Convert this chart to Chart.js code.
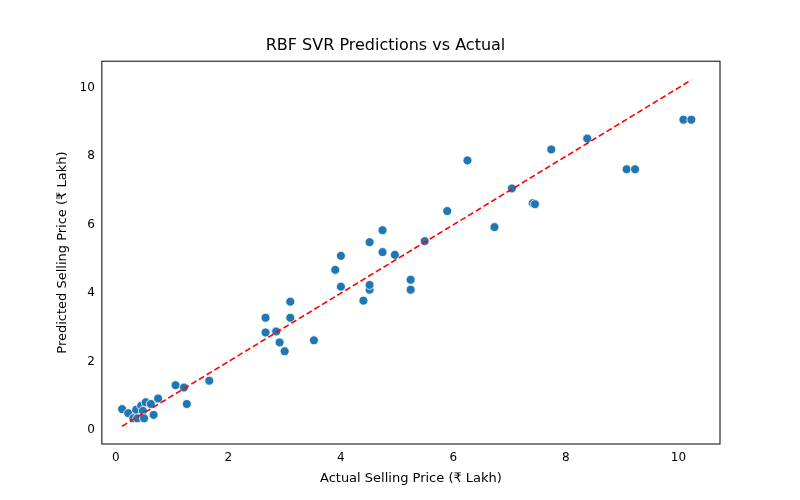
<!DOCTYPE html>
<html><head><script src="https://cdn.jsdelivr.net/npm/chart.js@4"></script>
<style>html,body{margin:0;background:#fff}#w{width:800px;height:500px}</style></head>
<body><div id="w"><canvas id="c"></canvas></div>
<script>
const actual=[0.11,0.22,0.31,0.36,0.38,0.45,0.48,0.50,0.53,0.62,0.67,0.75,1.06,1.21,1.26,1.66,2.66,2.66,2.85,2.91,3.0,3.1,3.1,3.52,3.9,4.0,4.0,4.4,4.51,4.51,4.51,4.74,4.74,4.96,5.24,5.24,5.49,5.89,6.25,6.73,7.04,7.41,7.45,7.74,8.38,9.08,9.23,10.09,10.23];
const predicted=[0.61,0.49,0.34,0.59,0.34,0.71,0.56,0.34,0.81,0.76,0.44,0.92,1.31,1.24,0.76,1.44,3.28,2.85,2.88,2.56,2.30,3.28,3.75,2.62,4.68,5.09,4.19,3.78,5.49,4.10,4.24,5.84,5.20,5.12,4.39,4.10,5.52,6.40,7.88,5.93,7.06,6.63,6.6,8.20,8.52,7.62,7.62,9.07,9.07];
const lineX=[0.11,10.23];
const xTicks=[0,2,4,6,8,10], yTicks=[0,2,4,6,8,10];
const F="'DejaVu Sans'";
const frame={id:'frame',afterDraw(c){const a=c.chartArea,g=c.ctx;g.save();g.strokeStyle='#000';g.lineWidth=1;g.strokeRect(a.left,a.top,a.right-a.left,a.bottom-a.top);g.restore();}};
new Chart(document.getElementById('c'),{
 data:{datasets:[
  {type:'scatter',data:actual.map((x,i)=>({x,y:predicted[i]})),backgroundColor:'#1f77b4',borderColor:'#fff',borderWidth:0.8,pointRadius:4.5,order:2},
  {type:'line',data:lineX.map(v=>({x:v,y:v})),borderColor:'#ff0000',borderDash:[6,3],borderWidth:1.6,pointRadius:0,fill:false,order:1}
 ]},
 options:{responsive:true,maintainAspectRatio:false,animation:false,
  layout:{padding:{left:51,right:80,top:10,bottom:10}},
  plugins:{legend:{display:false},tooltip:{enabled:false},
   title:{display:true,text:'RBF SVR Predictions vs Actual',color:'#000',font:{family:F,size:16,weight:'normal'},padding:{top:26,bottom:6}}},
  scales:{
   x:{type:'linear',min:-0.25,max:10.74,afterBuildTicks:s=>{s.ticks=xTicks.map(v=>({value:v}))},
    grid:{display:false,drawTicks:true,tickLength:4,tickColor:'#000'},border:{display:false},
    ticks:{color:'#000',font:{family:F,size:12},padding:3},
    title:{display:true,text:'Actual Selling Price (₹ Lakh)',color:'#000',font:{family:F,size:13},padding:{top:2}}},
   y:{type:'linear',min:-0.41,max:10.78,afterBuildTicks:s=>{s.ticks=yTicks.map(v=>({value:v}))},
    grid:{display:false,drawTicks:true,tickLength:4,tickColor:'#000'},border:{display:false},
    ticks:{color:'#000',font:{family:F,size:12},padding:3},
    title:{display:true,text:'Predicted Selling Price (₹ Lakh)',color:'#000',font:{family:F,size:13},padding:{bottom:6}}}
  }},
 plugins:[frame]
});
</script></body></html>
